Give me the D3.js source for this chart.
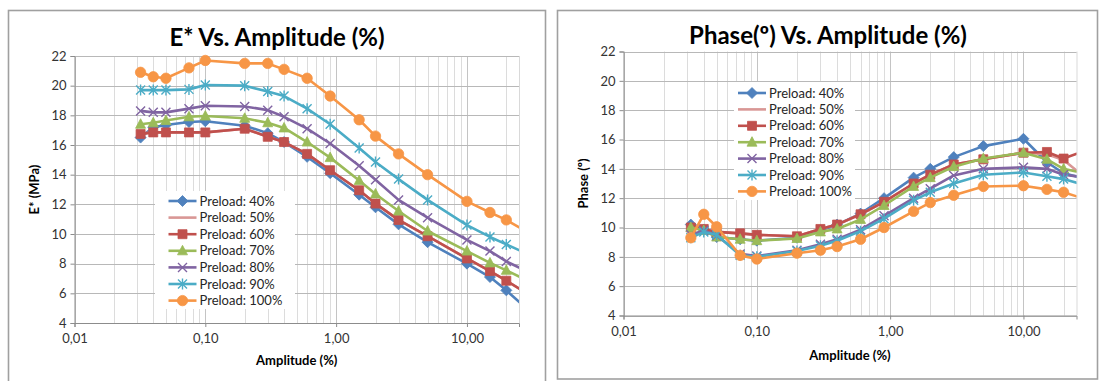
<!DOCTYPE html>
<html>
<head>
<meta charset="utf-8">
<script src="https://cdn.jsdelivr.net/npm/d3@7"></script>
<style>
  body { margin: 0; background: #fff; }
  svg { display: block; }
  text { font-family: Lato, "Open Sans", sans-serif; }
</style>
</head>
<body>
<div id="chart"></div>
<script>
// amplitude (%) of each measurement point
var amplitude = [0.032, 0.04, 0.05, 0.075, 0.1, 0.2, 0.3, 0.4, 0.6, 0.9, 1.5, 2, 3, 5, 10, 15, 20, 30];

var seriesNames = ["Preload: 40%", "Preload: 50%", "Preload: 60%", "Preload: 70%",
                   "Preload: 80%", "Preload: 90%", "Preload: 100%"];

// E* (MPa)
var eStar40  = [16.5, 17.2, 17.35, 17.55, 17.6, 17.3, 16.8, 16.2, 15.2, 14.1, 12.65, 11.8, 10.65, 9.45, 8.0, 7.1, 6.2, 4.8];
var eStar50  = [16.75, 16.85, 16.85, 16.85, 16.85, 17.1, 16.55, 16.2, 15.4, 14.3, 12.95, 12.05, 10.95, 9.85, 8.35, 7.5, 6.85, 5.9];
var eStar60  = [16.75, 16.85, 16.85, 16.85, 16.85, 17.1, 16.55, 16.2, 15.4, 14.3, 12.95, 12.05, 10.95, 9.85, 8.35, 7.5, 6.85, 5.9];
var eStar70  = [17.4, 17.5, 17.65, 17.9, 17.95, 17.8, 17.5, 17.15, 16.2, 15.15, 13.6, 12.7, 11.55, 10.2, 8.85, 8.05, 7.55, 6.8];
var eStar80  = [18.3, 18.2, 18.2, 18.45, 18.65, 18.6, 18.35, 17.9, 17.1, 16.1, 14.6, 13.65, 12.3, 11.1, 9.6, 8.85, 8.15, 7.4];
var eStar90  = [19.7, 19.7, 19.7, 19.75, 20.05, 20.0, 19.6, 19.3, 18.45, 17.4, 15.8, 14.85, 13.7, 12.3, 10.6, 9.8, 9.3, 8.6];
var eStar100 = [20.9, 20.6, 20.5, 21.2, 21.7, 21.5, 21.5, 21.1, 20.5, 19.3, 17.7, 16.6, 15.4, 14.0, 12.2, 11.45, 10.95, 10.05];

// Phase (º)
var phase40  = [10.2, 9.85, 9.35, 9.2, 9.1, 9.3, 9.8, 10.2, 10.95, 12.0, 13.4, 14.0, 14.8, 15.55, 16.05, 14.45, 13.7, 13.3];
var phase50  = [10.0, 9.9, 9.7, 9.6, 9.5, 9.4, 9.9, 10.2, 10.9, 11.75, 13.0, 13.6, 14.3, 14.65, 15.1, 15.0, 14.6, 13.3];
var phase60  = [10.0, 9.9, 9.7, 9.6, 9.5, 9.4, 9.9, 10.2, 10.9, 11.75, 13.0, 13.6, 14.3, 14.65, 15.1, 15.15, 14.7, 15.3];
var phase70  = [10.0, 9.8, 9.35, 9.2, 9.1, 9.25, 9.7, 9.9, 10.55, 11.5, 12.8, 13.4, 14.15, 14.7, 15.1, 14.65, 14.0, 13.65];
var phase80  = [9.5, 9.8, 9.45, 8.2, 8.05, 8.45, 8.85, 9.2, 9.85, 10.8, 12.0, 12.65, 13.55, 14.0, 14.1, 14.0, 13.6, 13.4];
var phase90  = [9.3, 9.7, 9.5, 8.1, 8.0, 8.4, 8.75, 9.1, 9.75, 10.6, 11.85, 12.4, 13.0, 13.6, 13.75, 13.5, 13.3, 12.85];
var phase100 = [9.3, 10.9, 10.05, 8.1, 7.85, 8.25, 8.45, 8.7, 9.2, 10.0, 11.1, 11.7, 12.2, 12.8, 12.85, 12.6, 12.4, 11.9];

var yTicks = [4, 6, 8, 10, 12, 14, 16, 18, 20, 22];
var xTicks = [0.01, 0.1, 1, 10];
var xTickLabels = ["0,01", "0,10", "1,00", "10,00"];

// look of each series (Excel 2007 palette)
var colors  = ["#4F81BD", "#D99795", "#C0504D", "#9BBB59", "#8064A2", "#4BACC6", "#F79646"];
var markers = ["diamond", "none", "square", "triangle", "x", "star", "circle"];

var svg = d3.select("#chart").append("svg")
    .attr("width", 1100)
    .attr("height", 381);

function markerPath(type) {
  switch (type) {
    case "diamond":  return "M0,-5.5L5.5,0L0,5.5L-5.5,0Z";
    case "square":   return "M-4.5,-4.5H4.5V4.5H-4.5Z";
    case "triangle": return "M0,-5.5L5,4L-5,4Z";
    case "x":        return "M-4.5,-4.5L4.5,4.5M-4.5,4.5L4.5,-4.5";
    case "star":     return "M-4.5,-4.5L4.5,4.5M-4.5,4.5L4.5,-4.5M0,-5.5V5.5";
    case "circle":   return "M5.2,0A5.2,5.2 0 1,1 -5.2,0A5.2,5.2 0 1,1 5.2,0Z";
  }
  return null;
}

function drawMarker(g, type, color) {
  var p = markerPath(type);
  if (!p) return;
  var stroked = (type === "x" || type === "star");
  g.append("path")
      .attr("d", p)
      .attr("fill", stroked ? "none" : color)
      .attr("stroke", color)
      .attr("stroke-width", stroked ? 1.4 : 0.8);
}

function drawPanel(cfg) {
  var g = svg.append("g");

  g.append("rect")
      .attr("x", cfg.box[0]).attr("y", cfg.box[1])
      .attr("width", cfg.box[2]).attr("height", cfg.box[3])
      .attr("fill", "#fff")
      .attr("stroke", "#a0a0a0")
      .attr("stroke-width", 1.6);

  var x = d3.scaleLog().domain([0.01, 25]).range([cfg.left, cfg.right]);
  var y = d3.scaleLinear().domain([4, 22]).range([cfg.bottom, cfg.top]);

  // vertical grid, every 1..9 of each decade
  var vLines = [];
  xTicks.forEach(function(d) {
    for (var k = 1; k < 10; k++) if (d * k < 25) vLines.push(d * k);
  });
  g.append("g").selectAll("line")
    .data(vLines)
    .enter().append("line")
      .attr("x1", function(d) { return Math.round(x(d)) + 0.5; })
      .attr("x2", function(d) { return Math.round(x(d)) + 0.5; })
      .attr("y1", cfg.top)
      .attr("y2", cfg.bottom)
      .attr("stroke", function(d) { return xTicks.indexOf(d) >= 0 ? "#c4c4c4" : "#dcdcdc"; })
      .attr("stroke-width", 1);

  // right border of plot area
  g.append("line")
      .attr("x1", cfg.right + 0.5).attr("x2", cfg.right + 0.5)
      .attr("y1", cfg.top).attr("y2", cfg.bottom)
      .attr("stroke", "#d9d9d9");

  // horizontal grid
  g.append("g").selectAll("line")
    .data(yTicks)
    .enter().append("line")
      .attr("x1", cfg.left)
      .attr("x2", cfg.right)
      .attr("y1", function(d) { return Math.round(y(d)) + 0.5; })
      .attr("y2", function(d) { return Math.round(y(d)) + 0.5; })
      .attr("stroke", "#b8b8b8");

  // axes
  var yAxis = g.append("g")
      .attr("transform", "translate(" + cfg.left + ",0)")
      .call(d3.axisLeft(y).tickValues(yTicks).tickSize(4).tickPadding(4));
  var xAxis = g.append("g")
      .attr("transform", "translate(0," + cfg.bottom + ")")
      .call(d3.axisBottom(x).tickValues(xTicks).tickSize(4).tickPadding(5)
        .tickFormat(function(d, i) { return xTickLabels[i]; }));
  [yAxis, xAxis].forEach(function(a) {
    a.select(".domain").attr("stroke", "#8c8c8c");
    a.selectAll(".tick line").attr("stroke", "#8c8c8c");
    a.selectAll(".tick text")
      .attr("fill", "#333")
      .style("font-size", "13px")
      .style("font-family", "Lato, sans-serif");
  });
  xAxis.selectAll(".tick text").attr("dy", "0.85em");

  // legend box sits inside the plot, under the series
  var clipId = "clip" + cfg.id;
  g.append("clipPath").attr("id", clipId)
    .append("rect")
      .attr("x", cfg.left).attr("y", cfg.top - 8)
      .attr("width", cfg.right - cfg.left).attr("height", cfg.bottom - cfg.top + 8);

  g.append("rect")
      .attr("x", cfg.legend[0]).attr("y", cfg.legend[1])
      .attr("width", cfg.legend[2]).attr("height", cfg.legend[3])
      .attr("fill", "#fff");

  var plot = g.append("g").attr("clip-path", "url(#" + clipId + ")");
  var line = d3.line()
      .x(function(d) { return x(d[0]); })
      .y(function(d) { return y(d[1]); });

  cfg.series.forEach(function(vals, si) {
    var pts = amplitude.map(function(a, i) { return [a, vals[i]]; });
    plot.append("path")
        .datum(pts)
        .attr("d", line)
        .attr("fill", "none")
        .attr("stroke", colors[si])
        .attr("stroke-width", 2.6)
        .attr("stroke-linejoin", "round");
    pts.forEach(function(p) {
      if (p[0] > 25) return;
      var m = plot.append("g")
          .attr("transform", "translate(" + x(p[0]) + "," + y(p[1]) + ")");
      drawMarker(m, markers[si], colors[si]);
    });
  });

  // legend entries
  var lg = g.append("g");
  seriesNames.forEach(function(name, i) {
    var ly = cfg.legendY + i * cfg.legendStep;
    var e = lg.append("g").attr("transform", "translate(" + cfg.legendX + "," + ly + ")");
    e.append("line")
        .attr("x1", 0).attr("x2", 28)
        .attr("stroke", colors[i]).attr("stroke-width", 2.6);
    drawMarker(e.append("g").attr("transform", "translate(14,0)"), markers[i], colors[i]);
    e.append("text")
        .attr("x", 31)
        .attr("dy", "0.35em")
        .attr("fill", "#262626")
        .style("font-size", "13px")
        .text(name);
  });

  // titles
  g.append("text")
      .attr("x", cfg.titleX).attr("y", cfg.titleY)
      .attr("text-anchor", "middle")
      .attr("font-weight", "bold")
      .attr("fill", "#000")
      .style("font-size", "24px")
      .text(cfg.title);
  g.append("text")
      .attr("x", (cfg.left + cfg.right) / 2).attr("y", cfg.xTitleY)
      .attr("text-anchor", "middle")
      .attr("font-weight", "bold")
      .attr("fill", "#000")
      .style("font-size", "13px")
      .text("Amplitude (%)");
  g.append("text")
      .attr("transform", "translate(" + cfg.yTitleX + "," + (cfg.top + cfg.bottom) / 2 + ") rotate(-90)")
      .attr("text-anchor", "middle")
      .attr("font-weight", "bold")
      .attr("fill", "#000")
      .style("font-size", "13px")
      .text(cfg.yTitle);
}

drawPanel({
  id: 1,
  box: [8.5, 10.5, 537, 400],
  left: 74.5, right: 519, top: 56, bottom: 323,
  legend: [155, 191, 140, 118],
  legendX: 168.5, legendY: 201, legendStep: 16.6,
  title: "E* Vs. Amplitude (%)", titleX: 277, titleY: 46,
  xTitleY: 365, yTitleX: 39, yTitle: "E* (MPa)",
  series: [eStar40, eStar50, eStar60, eStar70, eStar80, eStar90, eStar100]
});

drawPanel({
  id: 2,
  box: [557.5, 10.5, 540, 368.5],
  left: 623.5, right: 1076.5, top: 51.5, bottom: 315.5,
  legend: [734, 82, 121, 118],
  legendX: 738, legendY: 93, legendStep: 16.4,
  title: "Phase(º) Vs. Amplitude (%)", titleX: 828, titleY: 44,
  xTitleY: 360, yTitleX: 588, yTitle: "Phase (º)",
  series: [phase40, phase50, phase60, phase70, phase80, phase90, phase100]
});
</script>
</body>
</html>
